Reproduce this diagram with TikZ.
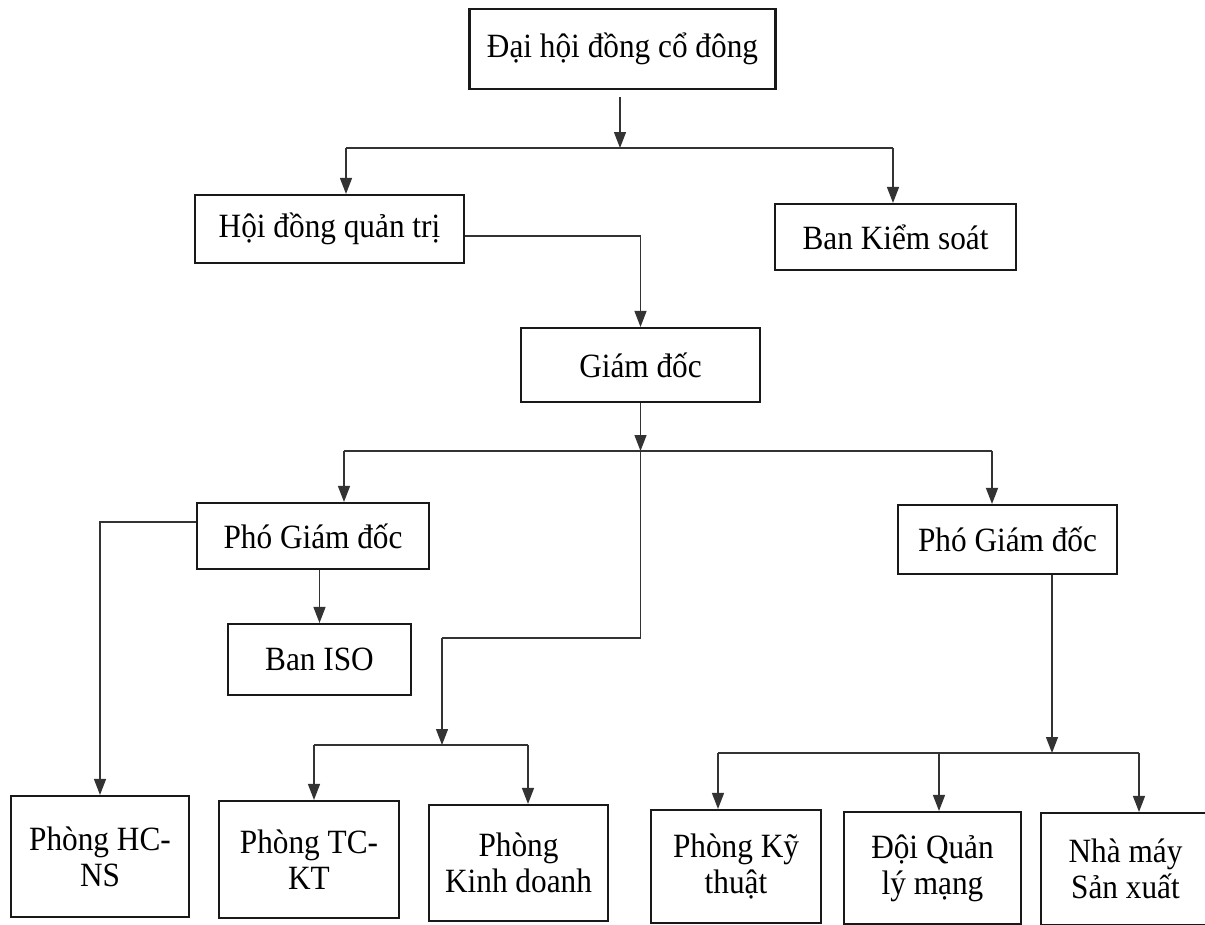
\documentclass[tikz,border=0pt]{standalone}
\usepackage{fontspec}
\setmainfont{Liberation Serif}[FakeStretch=0.92]
\usetikzlibrary{arrows.meta}
\begin{document}
\begin{tikzpicture}[x={(1pt,0)}, y={(0,-1pt)},
  box/.style={draw=black!90, line width=2.1pt, fill=white, align=center,
    inner sep=0pt, font=\fontsize{34}{36}\selectfont},
  link/.style={draw=black!80, line width=1.3pt},
  arr/.style={link, -{Triangle[length=16pt,width=12pt]}}]
\useasboundingbox[fill=white] (0,0) rectangle (1205,924);

% nodes
\node[box, minimum width=306pt, minimum height=80pt] (dh) at (622.5,49) {Đại hội đồng cổ đông};
\node[box, minimum width=269pt, minimum height=68pt] (hd) at (329.5,229) {Hội đồng quản trị};
\node[box, minimum width=241pt, minimum height=66pt] (bks) at (895.5,237) {Ban Kiểm soát};
\node[box, minimum width=239pt, minimum height=74pt] (gd) at (640.5,365) {Giám đốc};
\node[box, minimum width=232pt, minimum height=66pt] (pg1) at (313,536) {Phó Giám đốc};
\node[box, minimum width=219pt, minimum height=69pt] (pg2) at (1007.5,539.5) {Phó Giám đốc};
\node[box, minimum width=183pt, minimum height=71pt] (iso) at (319.5,659.5) {Ban ISO};
\node[box, minimum width=178pt, minimum height=121pt] (hcns) at (100,856.5) {Phòng HC-\\NS};
\node[box, minimum width=180pt, minimum height=117pt] (tckt) at (309,859.5) {Phòng TC-\\KT};
\node[box, minimum width=179pt, minimum height=116pt] (kd) at (518.5,863) {Phòng\\Kinh doanh};
\node[box, minimum width=170pt, minimum height=113pt] (kt) at (736,866.5) {Phòng Kỹ\\thuật};
\node[box, minimum width=177pt, minimum height=112pt] (ql) at (932.5,868) {Đội Quản\\lý mạng};
\node[box, minimum width=169pt, minimum height=112pt] (nm) at (1125.5,869) {Nhà máy\\Sản xuất};

% junction coordinates
\coordinate (a0) at (620,97);
\coordinate (j1) at (620,148);
\coordinate (l1) at (346,148);
\coordinate (r1) at (893,148);
\coordinate (j2) at (640.5,451);
\coordinate (l2) at (344,451);
\coordinate (r2) at (992,451);
\coordinate (c2) at (640.5,638);
\coordinate (c3) at (442,638);
\coordinate (j3) at (442,745);
\coordinate (l3) at (314,745);
\coordinate (r3) at (528,745);
\coordinate (j4) at (1052,753);
\coordinate (l4) at (718,753);
\coordinate (m4) at (939,753);
\coordinate (r4) at (1139,753);

% connectors
\draw[arr] (a0) -- (j1);
\draw[link] (l1) -- (r1);
\draw[arr] (l1) -- (l1 |- hd.north);
\draw[arr] (r1) -- (r1 |- bks.north);

\draw[arr] ([yshift=-7pt]hd.east) -| (gd.north);

\draw[arr] (gd.south) -- (j2);
\draw[link] (l2) -- (r2);
\draw[arr] (l2) -- (l2 |- pg1.north);
\draw[arr] (r2) -- (r2 |- pg2.north);
\draw[link] (j2) -- (c2) -- (c3);
\draw[arr] (c3) -- (j3);
\draw[link] (l3) -- (r3);
\draw[arr] (l3) -- (l3 |- tckt.north);
\draw[arr] (r3) -- (r3 |- kd.north);

\draw[arr] ([yshift=14pt]pg1.west) -| (hcns.north);
\draw[arr] (pg1.south -| iso.north) -- (iso.north);

\draw[arr] (pg2.south -| j4) -- (j4);
\draw[link] (l4) -- (r4);
\draw[arr] (l4) -- (l4 |- kt.north);
\draw[arr] (m4) -- (m4 |- ql.north);
\draw[arr] (r4) -- (r4 |- nm.north);
\end{tikzpicture}
\end{document}
